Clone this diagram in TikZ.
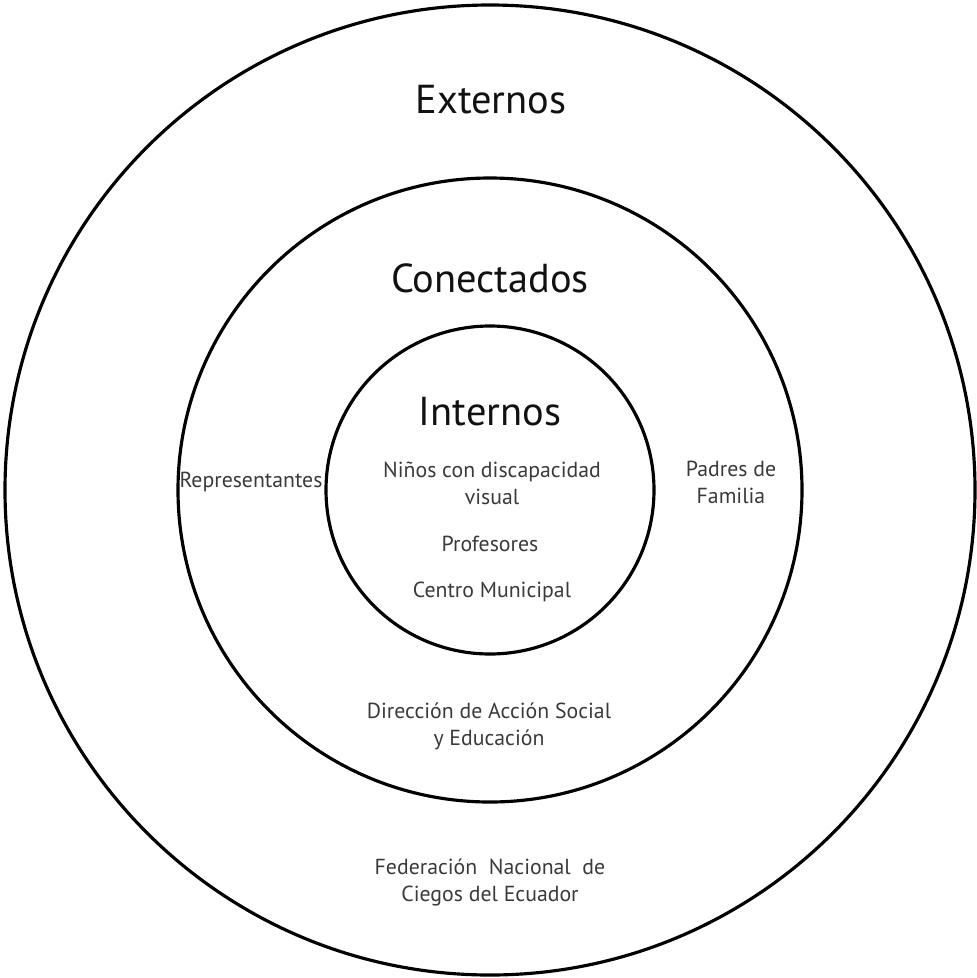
\documentclass[tikz,border=0pt]{standalone}
\usepackage{fontspec}
\setmainfont{PT Sans}
\usepackage{xcolor}
\usetikzlibrary{positioning}

\definecolor{labelgray}{HTML}{3A3A3A}
\definecolor{titleblack}{HTML}{111111}

\tikzset{
    ring/.style={line width=1.8pt, draw=black},
    title/.style={text=titleblack, font=\fontsize{23}{27}\selectfont, inner sep=0pt},
    member/.style={text=labelgray, font=\fontsize{12.4}{15.4}\selectfont, align=center, inner sep=0pt},
}

\begin{document}
\begin{tikzpicture}[x=0.02cm, y=-0.02cm]
    \useasboundingbox (0,0) rectangle (977,978);
    % Circles
    \coordinate (c) at (490,490);
    \draw [ring] (c) circle [radius=485];
    \draw [ring] (c) circle [radius=312];
    \draw [ring] (c) circle [radius=164];
    % Titles
    \node [title] (externos) at (491,100) {Externos};
    \node [title] (conectados) at (490,278) {Conectados};
    \node [title] (internos) at (490,412) {Internos};
    % Inner ring
    \node [member] (ninos) at (492,483) {Niños con discapacidad\\visual};
    \node [member] (profesores) at (490,544) {Profesores};
    \node [member] (centro) at (492,592) {Centro Municipal};
    % Connected ring
    \node [member] (representantes) at (251,482) {Representantes};
    \node [member] (padres) at (731,482) {Padres de\\Familia};
    \node [member] (direccion) at (489,726) {Dirección de Acción Social\\y Educación};
    % Outer ring
    \node [member] (federacion) at (490,882) {Federación\ \ Nacional\ \ de\\Ciegos del Ecuador};
\end{tikzpicture}
\end{document}
